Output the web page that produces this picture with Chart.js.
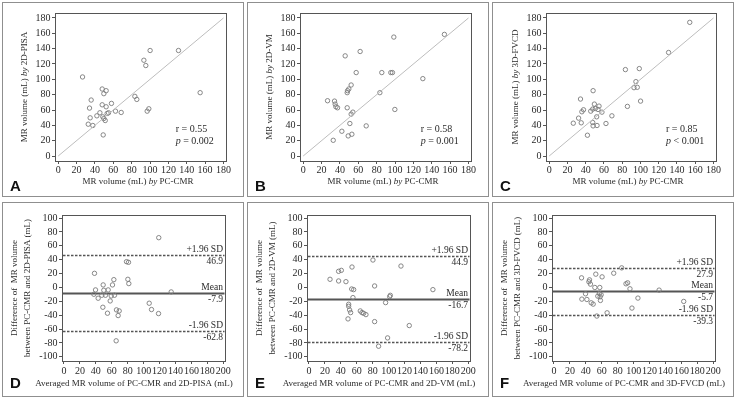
<!DOCTYPE html>
<html>
<head>
<meta charset="utf-8">
<script src="https://cdn.jsdelivr.net/npm/chart.js@4.4.1/dist/chart.umd.min.js"></script>
<style>
  html, body { margin: 0; padding: 0; background: #fff; }
  body { width: 735px; height: 401px; position: relative; overflow: hidden; }
  .panel { position: absolute; width: 240px; height: 193px; border: 1px solid #8f8f8f; }
  .panel canvas { display: block; }
</style>
</head>
<body>
<div class="panel" style="left:2px;top:2px"><canvas id="cA" width="240" height="193"></canvas></div>
<div class="panel" style="left:247px;top:2px"><canvas id="cB" width="240" height="193"></canvas></div>
<div class="panel" style="left:492px;top:2px"><canvas id="cC" width="240" height="193"></canvas></div>
<div class="panel" style="left:2px;top:202px"><canvas id="cD" width="240" height="193"></canvas></div>
<div class="panel" style="left:247px;top:202px"><canvas id="cE" width="240" height="193"></canvas></div>
<div class="panel" style="left:492px;top:202px"><canvas id="cF" width="240" height="193"></canvas></div>
<script>
// ---- data (mL) ----
// A: PC-CMR vs 2D-PISA
const cmrA = [26.5, 35.9, 34.1, 34.8, 32.7, 37.7, 42.1, 45.4, 47.9, 47.9, 49.7, 52.2, 52.2, 48.6, 49.7, 51.2,
    53.3, 54.8, 49, 58, 62.4, 68.6, 83.5, 85.6, 93.3, 95.4, 100.1, 98.7, 96.9, 131, 154.6];
const pisaA = [103.1, 73, 62.5, 49.8, 41.5, 39.8, 52.4, 56.4, 87.4, 66.8, 81.3, 85.2, 64.2, 51.1, 48.9, 46.3,
    55.5, 56.4, 27.5, 68.6, 58.5, 56.8, 77.8, 73.8, 124.9, 118, 137.6, 61.6, 58.5, 137.6, 82.6];

// B: PC-CMR vs 2D-VM
const cmrB = [26.5, 34.1, 34.8, 35.6, 37.4, 32.7, 42.1, 47.9, 45.7, 47.9, 48.3, 49.7, 52.2, 50.8, 52.2,
    54.1, 49, 53, 57.7, 62, 68.6, 83.5, 85.6, 95.4, 97.2, 98.7, 99.8, 130.3, 153.8];
const vmB = [72.1, 71.6, 67.7, 64.2, 62.9, 20.5, 32.3, 62.9, 130.6, 82.6, 85.2, 87.4, 92.6, 42.4, 54.6,
    57.2, 26.2, 28.4, 108.8, 136.3, 39.3, 82.6, 108.8, 108.8, 108.8, 155.1, 60.7, 100.9, 158.6];

// C: PC-CMR vs 3D-FVCD
const cmrC = [26.4, 32.2, 34.3, 35.1, 35.8, 37.6, 41.9, 45.5, 48.1, 47.7, 48.1, 49.5, 47.7, 50.6, 52.4,
    52, 53.5, 54.6, 57.8, 62.2, 68.7, 83.5, 85.7, 92.9, 95, 96.5, 98.7, 100.1, 130.8, 154];
const fvcdC = [42.8, 49.4, 74.3, 43.3, 57.7, 60.3, 27.1, 58.5, 85.2, 43.7, 39.3, 67.7, 61.2, 62, 39.8,
    51.1, 60.7, 65.1, 57.2, 42.4, 52.4, 112.7, 64.7, 89.1, 97, 89.6, 114, 71.6, 135, 174.3];

// D: Bland-Altman PC-CMR vs 2D-PISA
const avgD = [119, 78.5, 81, 38.3, 62.6, 49.2, 60.9, 80.2, 81.4, 39.6, 50, 55.5, 37.5, 47.5, 52.1, 59.3,
    63.4, 42.9, 58, 48.8, 65.9, 69.3, 54.6, 68, 107, 109.9, 118.7, 134.6, 65.5];
const diffD = [71.8, 37.2, 36.3, 20.4, 11.3, 3.7, 3.7, 11.8, 5.6, -3.5, -4, -3.5, -9.8, -11.2, -11.2, -12.2,
    -11.2, -15.5, -19.4, -28.5, -32.3, -33.8, -37.1, -40.5, -22.7, -31.8, -37.6, -6.4, -76.9];

// E: Bland-Altman PC-CMR vs 2D-VM
const avgE = [80.3, 115.5, 54, 37.2, 40.6, 26.4, 37.2, 46.4, 82.4, 53.6, 56.1, 155.6, 102.1, 101.3, 55.2,
    96.2, 49.8, 49.8, 51, 52.3, 64.4, 66.5, 68.6, 71.5, 49, 82.4, 125.9, 98.7, 87.4];
const diffE = [39.6, 30.9, 29.5, 23.3, 24.7, 11.8, 9.4, 8.4, 2.2, -2.2, -3.1, -3.1, -11.3, -13.2, -14.6,
    -21.8, -24.2, -27.1, -32.4, -36.2, -33.8, -36.2, -37.2, -39.1, -45.3, -49.2, -54.9, -72.7, -84.7];

// F: Bland-Altman PC-CMR vs 3D-FVCD
const avgF = [85, 34.6, 52.5, 60.4, 75, 44.6, 43.8, 45.8, 51.3, 57.5, 90.4, 92.5, 95.4, 132, 39.6, 57,
    59.2, 55, 57.9, 35, 41.3, 58.3, 105.4, 46.7, 49.2, 162.9, 97.9, 53.8, 66.7];
const diffF = [28.3, 13.9, 19.2, 15.3, 20.6, 11, 8.2, 4.8, 0, 0, 5.3, 6.7, -1.9, -3.8, -9.1, -8.6,
    -10.6, -12.5, -13.4, -16.8, -17.3, -18.7, -15.3, -22.1, -24, -20.1, -29.7, -41.2, -36.5];

// limits of agreement: +1.96 SD, mean, -1.96 SD
const limitsD = [46.9, -7.9, -62.8];
const limitsE = [44.9, -16.7, -78.2];
const limitsF = [27.9, -5.7, -39.3];
const limitNames = ['+1.96 SD', 'Mean', '-1.96 SD'];

const volTicks = [0, 20, 40, 60, 80, 100, 120, 140, 160, 180];
const avgTicks = [0, 20, 40, 60, 80, 100, 120, 140, 160, 180, 200];
const diffTicks = [-100, -80, -60, -40, -20, 0, 20, 40, 60, 80, 100];

const SERIF = "'Liberation Serif', 'Times New Roman', serif";
const SANS_BOLD = "bold 15px 'Liberation Sans Narrow', 'Liberation Sans', sans-serif";
const INK = '#2a2a2a';
Chart.defaults.font.family = SERIF;
Chart.defaults.font.size = 10;
Chart.defaults.color = INK;

// text made of [string, italic] parts, centred on (cx, cy), optionally turned up the left side
function drawRich(ctx, parts, cx, cy, vertical) {
    const fontOf = it => (it ? 'italic ' : '') + '9px ' + SERIF;
    let total = 0;
    parts.forEach(p => { ctx.font = fontOf(p[1]); total += ctx.measureText(p[0]).width; });
    ctx.save();
    ctx.translate(cx, cy);
    if (vertical) ctx.rotate(-Math.PI / 2);
    ctx.textAlign = 'left';
    ctx.textBaseline = 'middle';
    let x0 = -total / 2;
    parts.forEach(p => {
        ctx.font = fontOf(p[1]);
        ctx.fillText(p[0], x0, 0);
        x0 += ctx.measureText(p[0]).width;
    });
    ctx.restore();
}

const decorPlugin = {
    id: 'decor',
    beforeDatasetsDraw(chart, args, o) {
        const { ctx, chartArea: a, scales: { y } } = chart;
        if (!o.limits) return;
        ctx.save();
        ctx.strokeStyle = '#555';
        o.limits.forEach((v, i) => {
            const py = Math.round(y.getPixelForValue(v)) + 0.5;
            ctx.setLineDash(i === 1 ? [] : [2.5, 1.5]);
            ctx.lineWidth = i === 1 ? 2 : 1.5;
            ctx.beginPath();
            ctx.moveTo(a.left + 1, py);
            ctx.lineTo(a.right - 1, py);
            ctx.stroke();
        });
        ctx.restore();
    },
    afterDraw(chart, args, o) {
        const { ctx, chartArea: a, scales: { x, y } } = chart;
        ctx.save();
        // frame round the plot
        ctx.strokeStyle = '#555';
        ctx.lineWidth = 1;
        ctx.strokeRect(Math.round(a.left) + 0.5, Math.round(a.top) + 0.5,
            Math.round(a.right - a.left) - 1, Math.round(a.bottom - a.top));
        ctx.fillStyle = INK;
        ctx.textBaseline = 'middle';
        if (o.limits) {
            ctx.font = '9.5px ' + SERIF;
            ctx.textAlign = 'right';
            o.limits.forEach((v, i) => {
                const py = Math.round(y.getPixelForValue(v));
                ctx.fillText(limitNames[i], a.right - 2.5, py - 6);
                ctx.fillText(v.toFixed(1), a.right - 2.5, py + 6.5);
            });
        }
        if (o.r) {
            const sx = x.getPixelForValue(o.statX);
            ctx.textAlign = 'left';
            ctx.font = '10px ' + SERIF;
            ctx.fillText('r = ' + o.r, sx, y.getPixelForValue(o.rY));
            const py = y.getPixelForValue(o.pY);
            ctx.font = 'italic 10px ' + SERIF;
            ctx.fillText('p', sx, py);
            const w = ctx.measureText('p').width;
            ctx.font = '10px ' + SERIF;
            ctx.fillText(' ' + o.p, sx + w, py);
        }
        // axis titles
        const midY = (a.top + a.bottom) / 2;
        drawRich(ctx, o.xTitle, o.xTitleX, o.xTitleY, false);
        o.yTitle.forEach((line, i) => drawRich(ctx, line, o.yTitleX[i], midY, true));
        // panel letter
        ctx.font = SANS_BOLD;
        ctx.textAlign = 'left';
        ctx.textBaseline = 'alphabetic';
        ctx.fillStyle = '#111';
        ctx.fillText(o.letter, o.letterX, o.letterY);
        ctx.restore();
    }
};

function axis(min, max, ticks, fit, tickPad) {
    return {
        type: 'linear',
        min: min,
        max: max,
        afterBuildTicks: s => { s.ticks = ticks.map(v => ({ value: v })); },
        afterFit: fit,
        grid: { display: true, drawOnChartArea: false, drawTicks: true, tickLength: 3, color: '#555' },
        border: { display: false },
        ticks: { padding: tickPad, autoSkip: false, maxRotation: 0, color: INK, callback: v => String(v) },
        title: { display: false }
    };
}

const pointStyle = { pointRadius: 2.2, borderWidth: 0.9, borderColor: '#7a7a7a', backgroundColor: 'rgba(0,0,0,0)' };

function scatterPanel(id, xs, ys, letter, yName, stats, yWidth) {
    const pts = xs.map((v, i) => ({ x: v, y: ys[i] }));
    const diag = [volTicks[0], volTicks[volTicks.length - 1]].map(v => ({ x: v, y: v }));
    return new Chart(document.getElementById(id), {
        type: 'scatter',
        data: {
            datasets: [
                { data: diag, showLine: true, borderColor: '#bdbdbd', borderWidth: 1, pointRadius: 0 },
                Object.assign({ data: pts }, pointStyle)
            ]
        },
        options: {
            responsive: false,
            animation: false,
            devicePixelRatio: 1,
            layout: { padding: { top: 10, right: 16.5, left: 0, bottom: 0 } },
            plugins: {
                legend: { display: false },
                tooltip: { enabled: false },
                decor: Object.assign({
                    letter: letter, letterX: 7, letterY: 188,
                    xTitle: [['MR volume (mL) ', false], ['by', true], [' PC-CMR', false]],
                    xTitleX: 135, xTitleY: 178.7,
                    yTitle: [[['MR volume (mL) ', false], ['by', true], [' ' + yName, false]]],
                    yTitleX: [yWidth - 30]
                }, stats)
            },
            scales: {
                x: axis(-3.5, 183.3, volTicks, s => { s.height = 35; }, 0),
                y: axis(-6.5, 186.5, volTicks, s => { s.width = yWidth; }, 1.5)
            }
        },
        plugins: [decorPlugin]
    });
}

function baPanel(id, xs, ys, limits, letter, method) {
    const pts = xs.map((v, i) => ({ x: v, y: ys[i] }));
    return new Chart(document.getElementById(id), {
        type: 'scatter',
        data: { datasets: [Object.assign({ data: pts }, pointStyle)] },
        options: {
            responsive: false,
            animation: false,
            devicePixelRatio: 1,
            layout: { padding: { top: 12, right: 17.5, left: 0, bottom: 0 } },
            plugins: {
                legend: { display: false },
                tooltip: { enabled: false },
                decor: {
                    limits: limits, letter: letter, letterX: 7, letterY: 184.5,
                    xTitle: [['Averaged MR volume of PC-CMR and ' + method + ' (mL)', false]],
                    xTitleX: 131, xTitleY: 180.3,
                    yTitle: [[['Difference of  MR volume', false]],
                             [['between PC-CMR and ' + method + ' (mL)', false]]],
                    yTitleX: [12, 24.3]
                }
            },
            scales: {
                x: axis(-2.5, 202.8, avgTicks, s => { s.height = 35; }, 1),
                y: axis(-106, 104.5, diffTicks, s => { s.width = 59; }, 1.5)
            }
        },
        plugins: [decorPlugin]
    });
}

scatterPanel('cA', cmrA, pisaA, 'A', '2D-PISA', { r: '0.55', p: '= 0.002', statX: 128, rY: 35, pY: 19.3 }, 52);
scatterPanel('cB', cmrB, vmB, 'B', '2D-VM', { r: '0.58', p: '= 0.001', statX: 128, rY: 35, pY: 19.3 }, 52);
scatterPanel('cC', cmrC, fvcdC, 'C', '3D-FVCD', { r: '0.85', p: '< 0.001', statX: 128, rY: 35, pY: 19.3 }, 53);

baPanel('cD', avgD, diffD, limitsD, 'D', '2D-PISA');
baPanel('cE', avgE, diffE, limitsE, 'E', '2D-VM');
baPanel('cF', avgF, diffF, limitsF, 'F', '3D-FVCD');
</script>
</body>
</html>
